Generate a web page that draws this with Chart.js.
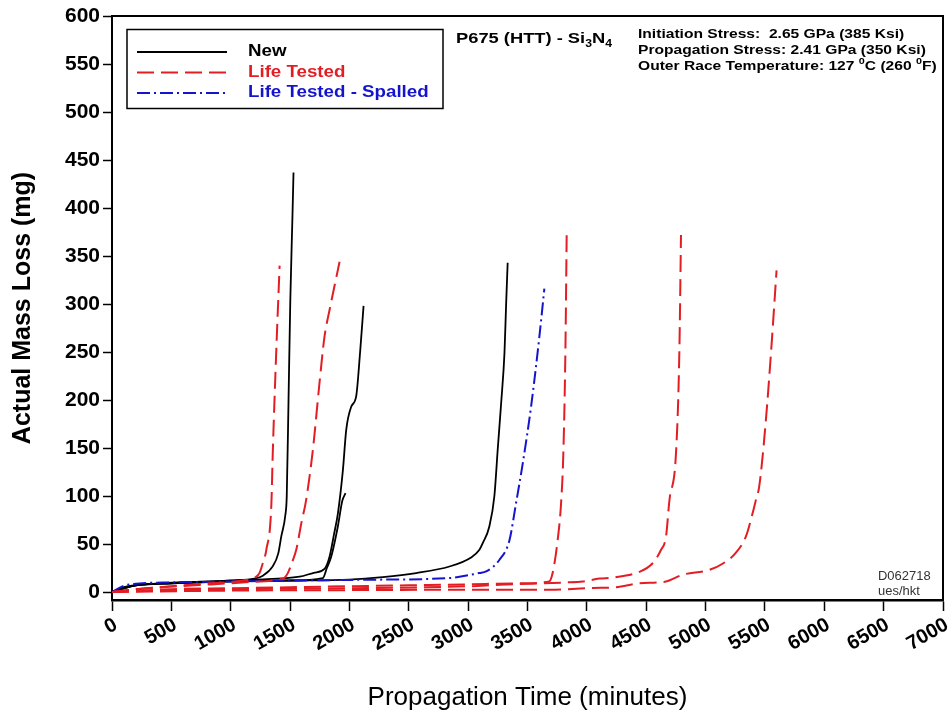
<!DOCTYPE html>
<html>
<head>
<meta charset="utf-8">
<script src="https://cdn.jsdelivr.net/npm/chart.js@4.4.0/dist/chart.umd.min.js"></script>
<style>
    html, body { margin: 0; padding: 0; background: #fff; }
</style>
</head>
<body>
<canvas id="massLossChart" width="952" height="721"></canvas>
<script>
// Each curve: [propagation time (min), actual mass loss (mg)]
const newA = [[0,0],[100,5],[300,8],[700,10],[1000,12],[1200,14],[1271,17],[1355,27],[1400,40],[1426,58],[1460,80],[1472,100],[1487,200],[1502,304],[1520,391],[1529,437]];
const newB = [[0,0],[150,6],[400,9],[800,11],[1200,13],[1580,16],[1700,20],[1790,24],[1833,37],[1870,60],[1903,82],[1945,127],[1973,169],[2015,193],[2057,204],[2090,250],[2119,298]];
const newC = [[0,0],[200,7],[500,9],[1000,11],[1500,12],[1776,14.6],[1810,25],[1847,37],[1902,68],[1940,95],[1967,103]];
const newD = [[0,0],[200,7],[500,9],[1000,11],[1500,12],[2000,13],[2281,15.6],[2562,19.8],[2843,26.6],[3025,36],[3095,44],[3123,51],[3178,68],[3221,100],[3250,150],[3280,200],[3306,249],[3320,300],[3333,343]];

const lifeA = [[0,0],[200,3],[500,6],[800,9],[1100,12],[1215,16],[1243,20],[1270,30],[1300,44],[1342,90],[1355,148],[1384,252],[1412,340]];
const lifeB = [[0,0],[300,4],[700,7],[1100,10],[1400,13],[1454,15],[1482,20],[1520,32],[1552,44],[1600,75],[1630,92],[1692,148],[1748,218],[1790,266],[1833,294],[1917,344]];
const lifeC = [[0,0],[500,3],[1000,4],[1500,5],[2000,6],[2500,7],[3000,8],[3400,9],[3683,11],[3712,20],[3754,54],[3783,93],[3802,145],[3819,249],[3830,372]];
const lifeD = [[0,0],[500,2],[1000,3],[2000,4],[3000,6],[3264,7.6],[3825,10],[3965,11],[4105,14],[4217,15],[4442,21],[4554,30],[4625,44],[4667,58],[4695,95],[4751,145],[4779,249],[4793,372]];
const lifeE = [[0,0],[1000,1.5],[2000,2],[3000,2.4],[3684,2.4],[4049,4.2],[4246,5],[4442,9],[4667,11],[4806,18],[5031,23],[5150,30],[5256,41],[5340,58],[5396,82],[5424,96],[5452,110],[5508,179],[5551,249],[5598,335]];

const spalledA = [[0,0],[130,7.6],[500,10],[1000,11],[1580,12],[2141,12.8],[2843,14.6],[3095,19.8],[3152,21.4],[3264,33.6],[3348,54],[3404,93],[3460,134],[3530,193],[3600,266],[3642,316]];

const xTickValues = [0,500,1000,1500,2000,2500,3000,3500,4000,4500,5000,5500,6000,6500,7000];
const yTickValues = [0,50,100,150,200,250,300,350,400,450,500,550,600];

const legendLabels = ['New', 'Life Tested', 'Life Tested - Spalled'];
const infoLines = ['Initiation Stress:  2.65 GPa (385 Ksi)', 'Propagation Stress: 2.41 GPa (350 Ksi)'];

const BLACK = '#000000';
const RED = 'rgb(226,30,36)';
const BLUE = 'rgb(20,20,205)';
const DASH_RED = [17, 7];
const DASH_BLUE = [13, 4, 2, 4];
const FONT = '"Liberation Sans", Arial, sans-serif';

function toPoints(arr) {
    return arr.map(p => ({ x: p[0], y: p[1] }));
}

function curve(arr, color, dash, width) {
    return {
        data: toPoints(arr),
        borderColor: color,
        borderWidth: width,
        borderDash: dash,
        pointRadius: 0,
        fill: false,
        cubicInterpolationMode: 'monotone'
    };
}

// draws a run of text pieces, squeezed/stretched horizontally by sx
function drawRun(ctx, parts, x, y, sx) {
    ctx.save();
    ctx.translate(x, y);
    ctx.scale(sx, 1);
    let cx = 0;
    parts.forEach(p => {
        ctx.font = p.font;
        ctx.fillText(p.text, cx, p.dy || 0);
        cx += ctx.measureText(p.text).width;
    });
    ctx.restore();
}

// legend, frame and text notes drawn on top of the chart
const decorations = {
    id: 'decorations',
    afterDraw(chart) {
        const ctx = chart.ctx;
        const a = chart.chartArea;
        ctx.save();

        // frame (top and right sides)
        ctx.strokeStyle = BLACK;
        ctx.lineWidth = 2;
        ctx.beginPath();
        ctx.moveTo(a.left, a.top);
        ctx.lineTo(a.right, a.top);
        ctx.lineTo(a.right, a.bottom);
        ctx.stroke();

        // legend box
        ctx.lineWidth = 1.5;
        ctx.strokeRect(127, 29.5, 316, 79);
        const styles = [[BLACK, []], [RED, DASH_RED], [BLUE, DASH_BLUE]];
        ctx.textBaseline = 'middle';
        legendLabels.forEach((label, i) => {
            const y = 52 + i * 20.5;
            ctx.strokeStyle = styles[i][0];
            ctx.setLineDash(styles[i][1]);
            ctx.lineWidth = 2;
            ctx.beginPath();
            ctx.moveTo(137, y);
            ctx.lineTo(227, y);
            ctx.stroke();
            ctx.setLineDash([]);
            ctx.fillStyle = styles[i][0];
            drawRun(ctx, [{ text: label, font: 'bold 16px ' + FONT }], 248, y, 1.17);
        });

        // material label with subscripts
        ctx.fillStyle = BLACK;
        ctx.textBaseline = 'alphabetic';
        const big = 'bold 15px ' + FONT;
        const small = 'bold 10px ' + FONT;
        drawRun(ctx, [
            { text: 'P675 (HTT) - Si', font: big },
            { text: '3', font: small, dy: 4 },
            { text: 'N', font: big },
            { text: '4', font: small, dy: 4 }
        ], 456, 43, 1.22);

        // test conditions
        const norm = 'bold 13px ' + FONT;
        const sup = 'bold 9px ' + FONT;
        infoLines.forEach((line, i) => {
            drawRun(ctx, [{ text: line, font: norm }], 638, 38 + i * 16, 1.2);
        });
        drawRun(ctx, [
            { text: 'Outer Race Temperature: 127 ', font: norm },
            { text: '0', font: sup, dy: -6 },
            { text: 'C (260 ', font: norm },
            { text: '0', font: sup, dy: -6 },
            { text: 'F)', font: norm }
        ], 638, 70, 1.2);

        // drawing id
        ctx.fillStyle = '#333';
        drawRun(ctx, [{ text: 'D062718', font: '12px ' + FONT }], 878, 580, 1.08);
        drawRun(ctx, [{ text: 'ues/hkt', font: '12px ' + FONT }], 878, 595, 1.08);

        ctx.restore();
    }
};

const massCtx = document.getElementById('massLossChart').getContext('2d');
const massLossChart = new Chart(massCtx, {
    type: 'line',
    data: {
        datasets: [
            curve(lifeA, RED, DASH_RED, 2),
            curve(lifeB, RED, DASH_RED, 2),
            curve(lifeC, RED, DASH_RED, 2),
            curve(lifeD, RED, DASH_RED, 2),
            curve(lifeE, RED, DASH_RED, 2),
            curve(spalledA, BLUE, DASH_BLUE, 2),
            curve(newA, BLACK, [], 1.8),
            curve(newB, BLACK, [], 1.8),
            curve(newC, BLACK, [], 1.8),
            curve(newD, BLACK, [], 1.8)
        ]
    },
    options: {
        responsive: false,
        animation: false,
        layout: { padding: { top: 16, right: 9, left: 0, bottom: 0 } },
        plugins: {
            legend: { display: false },
            tooltip: { enabled: false }
        },
        scales: {
            x: {
                type: 'linear',
                min: 0,
                max: 7000,
                afterBuildTicks: s => { s.ticks = xTickValues.map(v => ({ value: v })); },
                afterFit: s => {
                    s.height = 121;
                    s.paddingLeft = 0;
                    s.paddingRight = 0;
                },
                grid: { drawOnChartArea: false, tickLength: 11, tickColor: BLACK, tickWidth: 1.5 },
                border: { color: BLACK, width: 2.5 },
                ticks: {
                    color: BLACK,
                    minRotation: 30,
                    maxRotation: 30,
                    padding: 2,
                    labelOffset: 4,
                    callback: v => String(v),
                    font: { family: FONT, size: 20, weight: 'bold' }
                },
                title: {
                    display: true,
                    text: 'Propagation Time (minutes)',
                    color: BLACK,
                    padding: { top: 0, bottom: 8 },
                    font: { family: FONT, size: 26 }
                }
            },
            y: {
                min: -8.3,
                max: 600,
                afterBuildTicks: s => { s.ticks = yTickValues.map(v => ({ value: v })); },
                afterFit: s => {
                    s.width = 112;
                    s.paddingTop = 0;
                    s.paddingBottom = 0;
                },
                grid: { drawOnChartArea: false, tickLength: 9, tickColor: BLACK, tickWidth: 1.5 },
                border: { color: BLACK, width: 2 },
                ticks: {
                    color: BLACK,
                    padding: 3,
                    font: { family: FONT, size: 21, weight: 'bold' }
                },
                title: {
                    display: true,
                    text: 'Actual Mass Loss (mg)',
                    color: BLACK,
                    padding: { top: 8, bottom: 0 },
                    font: { family: FONT, size: 25, weight: 'bold' }
                }
            }
        }
    },
    plugins: [decorations]
});
</script>
</body>
</html>
